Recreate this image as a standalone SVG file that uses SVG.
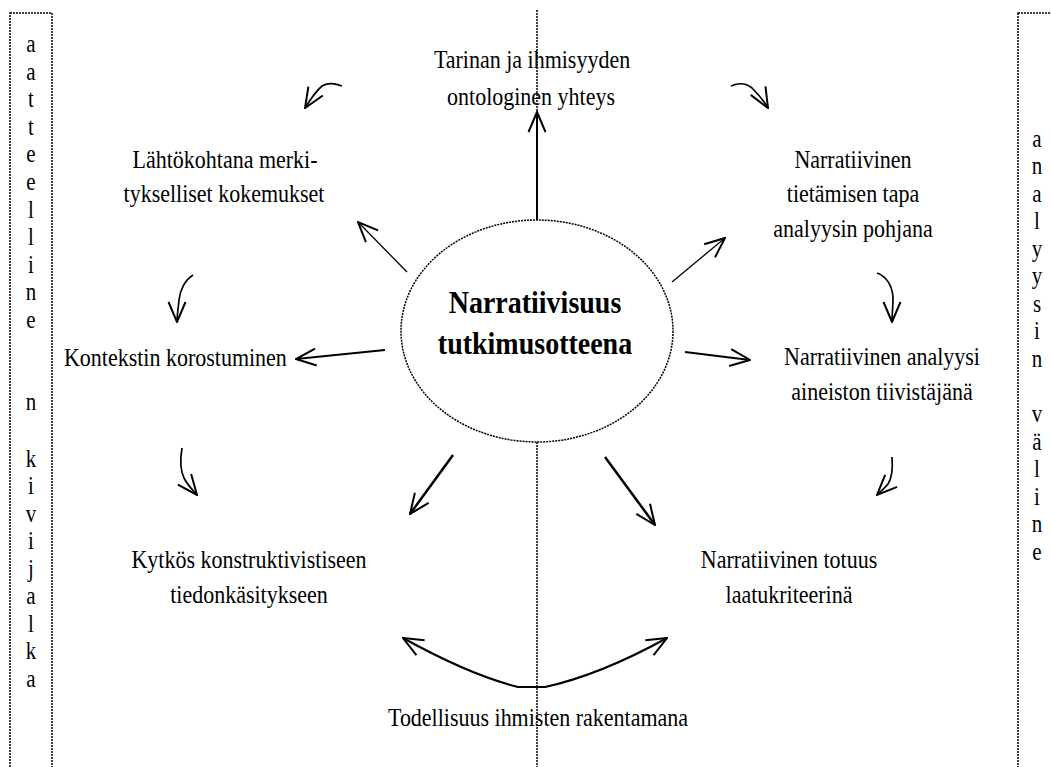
<svg xmlns="http://www.w3.org/2000/svg" width="1051" height="767" viewBox="0 0 1051 767">
<defs>
<style>
.t{font-family:"Liberation Serif","Times New Roman",serif;font-size:22px;fill:#000}
.c{text-anchor:middle}
.title{font-family:"Liberation Serif","Times New Roman",serif;font-size:28px;font-weight:bold;text-anchor:middle;fill:#000}
.dot{fill:none;stroke:#000;stroke-width:1.5;stroke-dasharray:2 1}
.a{fill:none;stroke:#000;stroke-width:2;marker-end:url(#ah)}
.a1{fill:none;stroke:#000;stroke-width:1.3;marker-end:url(#ah)}
.cu{fill:none;stroke:#000;stroke-width:1.7;marker-end:url(#ah)}
.a3{fill:none;stroke:#000;stroke-width:2.5;marker-end:url(#ah)}
.col{font-family:"Liberation Serif","Times New Roman",serif;font-size:21px;text-anchor:middle;fill:#000}
</style>
<marker id="ah" viewBox="0 0 22 22" refX="21" refY="11" markerWidth="22" markerHeight="22" markerUnits="userSpaceOnUse" orient="auto">
<path d="M1,2.5 L21,11 L1,19.5" fill="none" stroke="#000" stroke-width="2"/>
</marker>
<marker id="ahs" viewBox="0 0 22 22" refX="21" refY="11" markerWidth="22" markerHeight="22" markerUnits="userSpaceOnUse" orient="auto-start-reverse">
<path d="M1,2.5 L21,11 L1,19.5" fill="none" stroke="#000" stroke-width="2"/>
</marker>
</defs>
<rect width="1051" height="767" fill="#fff"/>
<g id="left-column">
<rect class="dot" x="10" y="13" width="42" height="770"/>
<g transform="scale(1,1.15)"><text class="col"><tspan x="31" y="45.2">a</tspan><tspan x="31" y="69.6">a</tspan><tspan x="31" y="93">t</tspan><tspan x="31" y="117.4">t</tspan><tspan x="31" y="140.9">e</tspan><tspan x="31" y="165.2">e</tspan><tspan x="31" y="189.6">l</tspan><tspan x="31" y="213">l</tspan><tspan x="31" y="237.4">i</tspan><tspan x="31" y="260.9">n</tspan><tspan x="31" y="285.2">e</tspan><tspan x="31" y="356.5">n</tspan><tspan x="31" y="406.1">k</tspan><tspan x="31" y="429.6">i</tspan><tspan x="31" y="453.9">v</tspan><tspan x="31" y="477.4">i</tspan><tspan x="31" y="501.7">j</tspan><tspan x="31" y="525.2">a</tspan><tspan x="31" y="549.6">l</tspan><tspan x="31" y="573">k</tspan><tspan x="31" y="597.4">a</tspan></text></g>
</g>
<g id="right-column">
<rect class="dot" x="1018" y="13" width="50" height="770"/>
<g transform="scale(1,1.15)"><text class="col"><tspan x="1037" y="127.8">a</tspan><tspan x="1037" y="151.3">n</tspan><tspan x="1037" y="175.7">a</tspan><tspan x="1037" y="199.1">l</tspan><tspan x="1037" y="223.5">y</tspan><tspan x="1037" y="247">y</tspan><tspan x="1037" y="271.3">s</tspan><tspan x="1037" y="294.8">i</tspan><tspan x="1037" y="319.1">n</tspan><tspan x="1037" y="367">v</tspan><tspan x="1037" y="391.3">ä</tspan><tspan x="1037" y="414.8">l</tspan><tspan x="1037" y="439.1">i</tspan><tspan x="1037" y="462.6">n</tspan><tspan x="1037" y="487">e</tspan></text></g>
</g>
<g id="divider">
<line class="dot" x1="537" y1="10" x2="537" y2="767"/>
</g>
<g id="connectors">
<line class="a" x1="537" y1="220" x2="537" y2="112"/>
<line class="a1" x1="407" y1="272" x2="358" y2="222"/>
<line class="a1" x1="672" y1="282" x2="725" y2="238"/>
<line class="a" x1="385" y1="350" x2="296" y2="359"/>
<line class="a" x1="685" y1="352" x2="750" y2="360"/>
<line class="a3" x1="453" y1="455" x2="410" y2="514"/>
<line class="a3" x1="605" y1="457" x2="655" y2="525"/>
<path class="cu" d="M342,86 C335,84 330,82 322,86 C315,92 310,100 305,108"/>
<path class="cu" d="M731,86 C738,83 745,82 752,88 C758,94 764,101 768,108"/>
<path class="cu" d="M193,275 C185,280 180,290 179,300 C178,310 177,316 177,322"/>
<path class="cu" d="M182,448 C180,460 180,470 184,478 C188,486 193,490 197,495"/>
<path class="cu" d="M877,273 C886,276 892,285 893,297 C893,307 892,315 892,322"/>
<path class="cu" d="M892,457 C893,470 892,478 888,484 C884,489 880,492 877,495"/>
<path fill="none" stroke="#000" stroke-width="2" marker-start="url(#ahs)" marker-end="url(#ah)" d="M403,638 Q470,675 518,687 L545,687 Q600,675 667,638"/>
</g>
<g id="center">
<ellipse cx="537" cy="331" rx="136" ry="111" fill="#fff" stroke="#000" stroke-width="1.5" stroke-dasharray="2 1"/>
<text class="title" transform="translate(535,313) scale(1,1.1)">Narratiivisuus</text>
<text class="title" transform="translate(535,354) scale(1,1.1)">tutkimusotteena</text>
</g>
<g id="n-top"><text class="t c" transform="translate(532,68) scale(1,1.15)">Tarinan ja ihmisyyden</text><text class="t c" transform="translate(531,105) scale(1,1.15)">ontologinen yhteys</text></g>
<g id="n-upper-left"><text class="t c" transform="translate(225,168) scale(1,1.15)">Lähtökohtana merki-</text><text class="t c" transform="translate(224,202) scale(1,1.15)">tykselliset kokemukset</text></g>
<g id="n-upper-right"><text class="t c" transform="translate(853,168) scale(1,1.15)">Narratiivinen</text><text class="t c" transform="translate(853,202) scale(1,1.15)">tietämisen tapa</text><text class="t c" transform="translate(853,237) scale(1,1.15)">analyysin pohjana</text></g>
<g id="n-left"><text class="t" transform="translate(64,366) scale(1,1.15)">Kontekstin korostuminen</text></g>
<g id="n-right"><text class="t c" transform="translate(882,365) scale(1,1.15)">Narratiivinen analyysi</text><text class="t c" transform="translate(882,400) scale(1,1.15)">aineiston tiivistäjänä</text></g>
<g id="n-lower-left"><text class="t c" transform="translate(249,568) scale(1,1.15)">Kytkös konstruktivistiseen</text><text class="t c" transform="translate(249,603) scale(1,1.15)">tiedonkäsitykseen</text></g>
<g id="n-lower-right"><text class="t c" transform="translate(789,568) scale(1,1.15)">Narratiivinen totuus</text><text class="t c" transform="translate(789,603) scale(1,1.15)">laatukriteerinä</text></g>
<g id="n-bottom"><text class="t c" transform="translate(538,726) scale(1,1.15)">Todellisuus ihmisten rakentamana</text></g>
</svg>
